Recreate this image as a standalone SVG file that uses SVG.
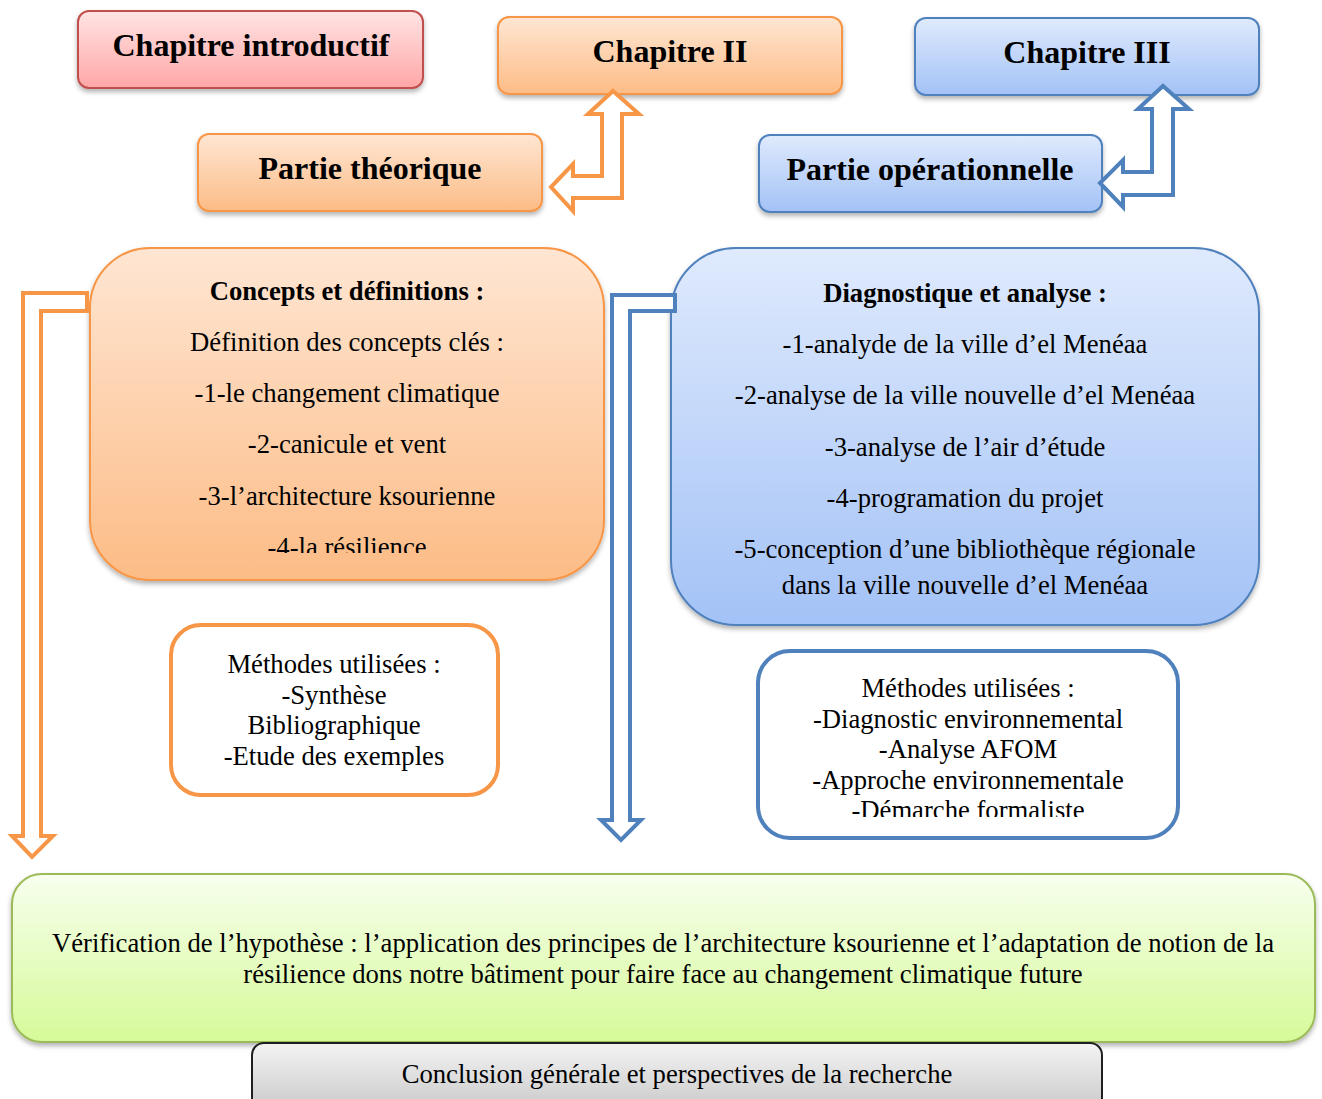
<svg xmlns="http://www.w3.org/2000/svg" width="1322" height="1099" viewBox="0 0 1322 1099">
<defs>
<linearGradient id="gPink" x1="0" y1="0" x2="0" y2="1"><stop offset="0" stop-color="#ffe4e4"/><stop offset="1" stop-color="#ffa6a6"/></linearGradient>
<linearGradient id="gOrange" x1="0" y1="0" x2="0" y2="1"><stop offset="0" stop-color="#ffe6d3"/><stop offset="1" stop-color="#fcbc86"/></linearGradient>
<linearGradient id="gBlue" x1="0" y1="0" x2="0" y2="1"><stop offset="0" stop-color="#dfeafd"/><stop offset="1" stop-color="#a3c2f6"/></linearGradient>
<linearGradient id="gGreen" x1="0" y1="0" x2="0" y2="1"><stop offset="0" stop-color="#f7ffee"/><stop offset="1" stop-color="#d6fa98"/></linearGradient>
<linearGradient id="gGray" x1="0" y1="0" x2="0" y2="1"><stop offset="0" stop-color="#f4f4f4"/><stop offset="1" stop-color="#c4c4c4"/></linearGradient>
<filter id="sh" x="-10%" y="-10%" width="120%" height="130%"><feDropShadow dx="0" dy="3" stdDeviation="2.5" flood-color="#000" flood-opacity="0.3"/></filter>
<clipPath id="clipL"><rect x="90" y="240" width="520" height="313"/></clipPath>
<clipPath id="clipR"><rect x="758" y="650" width="420" height="167"/></clipPath>
</defs>
<style>
.t{font-family:"Liberation Serif","Times New Roman",serif;font-size:26.67px;fill:#000;text-anchor:middle}
.b{font-weight:bold}
.h{font-family:"Liberation Serif","Times New Roman",serif;font-size:32px;font-weight:bold;fill:#000;text-anchor:middle}
.o{stroke:#f79646;stroke-width:2}
.bl{stroke:#4f81bd;stroke-width:2}
.arrO{fill:#fff;stroke:#f79646;stroke-width:4;stroke-linejoin:miter}
.arrB{fill:#fff;stroke:#4f81bd;stroke-width:4;stroke-linejoin:miter}
</style>

<g id="chapitre-introductif">
<rect x="78" y="11" width="345" height="77" rx="11" fill="url(#gPink)" stroke="#c0504d" stroke-width="2" filter="url(#sh)"/>
<text class="h" x="251" y="56">Chapitre introductif</text>
</g>
<g id="chapitre-ii">
<rect x="498" y="17" width="344" height="77" rx="11" fill="url(#gOrange)" class="o" filter="url(#sh)"/>
<text class="h" x="670" y="62">Chapitre II</text>
</g>
<g id="chapitre-iii">
<rect x="915" y="18" width="344" height="77" rx="11" fill="url(#gBlue)" class="bl" filter="url(#sh)"/>
<text class="h" x="1087" y="63">Chapitre III</text>
</g>
<g id="partie-theorique">
<rect x="198" y="134" width="344" height="77" rx="11" fill="url(#gOrange)" class="o" filter="url(#sh)"/>
<text class="h" x="370" y="179">Partie théorique</text>
</g>
<g id="partie-operationnelle">
<rect x="759" y="135" width="343" height="77" rx="11" fill="url(#gBlue)" class="bl" filter="url(#sh)"/>
<text class="h" x="930" y="180">Partie opérationnelle</text>
</g>

<g id="concepts">
<rect x="90" y="248" width="514" height="332" rx="60" fill="url(#gOrange)" class="o" filter="url(#sh)"/>
<g clip-path="url(#clipL)">
<text class="t b" x="347" y="300">Concepts et définitions :</text>
<text class="t" x="347" y="351">Définition des concepts clés :</text>
<text class="t" x="347" y="402">-1-le changement climatique</text>
<text class="t" x="347" y="453">-2-canicule et vent</text>
<text class="t" x="347" y="505">-3-l’architecture ksourienne</text>
<text class="t" x="347" y="556">-4-la résilience</text>
</g>
</g>

<g id="diagnostique">
<rect x="671" y="248" width="588" height="377" rx="65" fill="url(#gBlue)" class="bl" filter="url(#sh)"/>
<text class="t b" x="965" y="302">Diagnostique et analyse :</text>
<text class="t" x="965" y="353">-1-analyde de la ville d’el Menéaa</text>
<text class="t" x="965" y="404">-2-analyse de la ville nouvelle d’el Menéaa</text>
<text class="t" x="965" y="456">-3-analyse de l’air d’étude</text>
<text class="t" x="965" y="507">-4-programation du projet</text>
<text class="t" x="965" y="558">-5-conception d’une bibliothèque régionale</text>
<text class="t" x="965" y="594">dans la ville nouvelle d’el Menéaa</text>
</g>

<g id="methodes-gauche">
<rect x="171" y="625" width="327" height="170" rx="30" fill="#fff" stroke="#f79646" stroke-width="4"/>
<text class="t" x="334" y="673">Méthodes utilisées :</text>
<text class="t" x="334" y="704">-Synthèse</text>
<text class="t" x="334" y="734">Bibliographique</text>
<text class="t" x="334" y="765">-Etude des exemples</text>
</g>

<g id="methodes-droite">
<rect x="758" y="651" width="420" height="187" rx="32" fill="#fff" stroke="#4f81bd" stroke-width="4"/>
<g clip-path="url(#clipR)">
<text class="t" x="968" y="697">Méthodes utilisées :</text>
<text class="t" x="968" y="728">-Diagnostic environnemental</text>
<text class="t" x="968" y="758">-Analyse AFOM</text>
<text class="t" x="968" y="789">-Approche environnementale</text>
<text class="t" x="968" y="819">-Démarche formaliste</text>
</g>
</g>

<g id="verification">
<rect x="12" y="874" width="1303" height="168" rx="30" fill="url(#gGreen)" stroke="#9bbb59" stroke-width="2" filter="url(#sh)"/>
<text class="t" x="663" y="952">Vérification de l’hypothèse : l’application des principes de l’architecture ksourienne et l’adaptation de notion de la</text>
<text class="t" x="663" y="983">résilience dons notre bâtiment pour faire face au changement climatique future</text>
</g>

<g id="conclusion">
<rect x="252" y="1043" width="850" height="75" rx="12" fill="url(#gGray)" stroke="#1f1f1f" stroke-width="2"/>
<text class="t" x="677" y="1083">Conclusion générale et perspectives de la recherche</text>
</g>

<g id="connectors">
<path class="arrO" d="M613,91 L639,114 L622,114 L622,198 L573,198 L573,211 L551,187 L573,164 L573,176 L602,176 L602,114 L588,114 Z"/>
<path class="arrB" d="M1163,86 L1189,109 L1173,109 L1173,195 L1123,195 L1123,207 L1100,183 L1123,160 L1123,172 L1152,172 L1152,109 L1138,109 Z"/>
<path class="arrO" d="M87,293 L23,293 L23,836 L12,836 L32,857 L53,836 L41,836 L41,311 L87,311 Z"/>
<path class="arrB" d="M675,295 L612,295 L612,820 L601,820 L621,840 L641,820 L630,820 L630,311 L675,311 Z"/>
</g>
</svg>
